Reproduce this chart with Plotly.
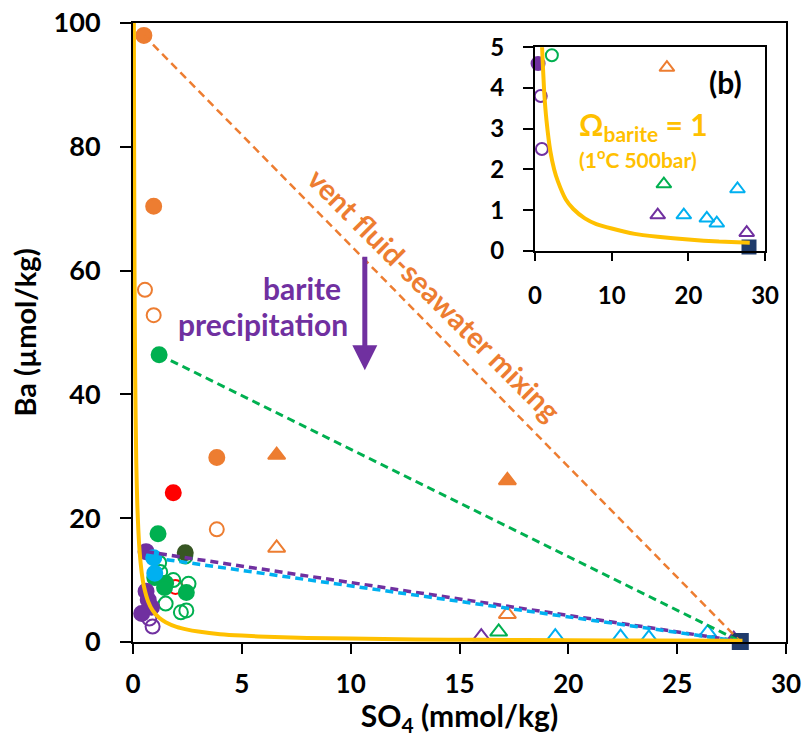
import numpy as np
import plotly.graph_objects as go

# ---------------- data: SO4 (mmol/kg) vs Ba (µmol/kg) ----------------
orange_fill_so4 = [0.5, 0.95, 3.85]
orange_fill_ba = [98.0, 70.4, 29.8]
orange_open_so4 = [0.55, 0.95, 3.85]
orange_open_ba = [56.9, 52.8, 18.2]
orange_tri_fill_so4 = [6.6, 17.2]
orange_tri_fill_ba = [30.2, 26.1]
orange_tri_open_so4 = [6.6, 17.2]
orange_tri_open_ba = [15.2, 4.5]

red_fill_so4 = [1.85]
red_fill_ba = [24.1]
red_open_so4 = [1.95]
red_open_ba = [8.9]

green_fill_so4 = [1.2, 1.15, 1.0, 1.5, 1.45, 2.45]
green_fill_ba = [46.4, 17.5, 10.4, 9.5, 8.8, 8.0]
green_open_so4 = [2.4, 1.2, 1.25, 1.85, 2.55, 1.5, 2.45, 2.2]
green_open_ba = [13.8, 12.8, 11.3, 10.0, 9.4, 6.2, 5.1, 4.8]
dkgreen_fill_so4 = [2.4]
dkgreen_fill_ba = [14.4]

purple_fill_so4 = [0.6, 0.6, 0.7, 0.85, 0.4]
purple_fill_ba = [14.6, 8.2, 6.8, 5.6, 4.6]
purple_open_so4 = [0.9, 0.75]
purple_open_ba = [2.5, 3.8]

cyan_fill_so4 = [0.95, 1.0]
cyan_fill_ba = [13.6, 11.1]

purple_tri_so4 = [16.0, 27.6]
purple_tri_ba = [0.88, 0.45]
green_tri_so4 = [16.8]
green_tri_ba = [1.64]
cyan_tri_so4 = [19.4, 22.4, 23.7, 26.4]
cyan_tri_ba = [0.88, 0.8, 0.68, 1.52]

seawater_so4 = [27.9]
seawater_ba = [0.1]

# barite saturation (Omega = 1) at 1 °C, 500 bar
omega_so4 = [0.04, 0.05, 0.07, 0.1, 0.15, 0.2, 0.3, 0.4, 0.5, 0.7, 0.9, 1.2, 1.5,
             2.0, 2.5, 3.0, 4.0, 5.0, 6.5, 8.0, 10.0, 13.0, 16.0, 20.0, 24.0, 28.0]
omega_ba = [100.0, 82.0, 60.0, 43.0, 29.0, 22.0, 14.8, 11.2, 9.0, 6.5, 5.1, 3.9, 3.2,
            2.45, 2.0, 1.7, 1.27, 1.03, 0.8, 0.66, 0.55, 0.42, 0.35, 0.28, 0.23, 0.2]

# ---------------- style ----------------
ORANGE = "#ED7D31"
GREEN = "#00B050"
DKGREEN = "#375623"
PURPLE = "#7030A0"
CYAN = "#00B0F0"
RED = "#FF0000"
NAVY = "#1F3B6B"
GOLD = "#FFC000"
FONT = "Lato"

# (x, y, color, symbol, main size)
marker_groups = [
    (orange_fill_so4, orange_fill_ba, ORANGE, "circle", 15),
    (orange_open_so4, orange_open_ba, ORANGE, "circle-open", 14),
    (orange_tri_fill_so4, orange_tri_fill_ba, ORANGE, "triangle-up", 15),
    (orange_tri_open_so4, orange_tri_open_ba, ORANGE, "triangle-up-open", 15),
    (red_open_so4, red_open_ba, RED, "circle-open", 14),
    (green_open_so4, green_open_ba, GREEN, "circle-open", 14),
    (purple_open_so4, purple_open_ba, PURPLE, "circle-open", 14),
    (red_fill_so4, red_fill_ba, RED, "circle", 15),
    (green_fill_so4, green_fill_ba, GREEN, "circle", 15),
    (dkgreen_fill_so4, dkgreen_fill_ba, DKGREEN, "circle", 15),
    (purple_fill_so4, purple_fill_ba, PURPLE, "circle", 15),
    (cyan_fill_so4, cyan_fill_ba, CYAN, "circle", 15),
    (purple_tri_so4, purple_tri_ba, PURPLE, "triangle-up-open", 15),
    (green_tri_so4, green_tri_ba, GREEN, "triangle-up-open", 15),
    (cyan_tri_so4, cyan_tri_ba, CYAN, "triangle-up-open", 15),
    (seawater_so4, seawater_ba, NAVY, "square", 15),
]

# vent fluid end-members mixed with seawater
mixing_lines = [
    (orange_fill_so4[0], orange_fill_ba[0], ORANGE, 2.5),
    (green_fill_so4[0], green_fill_ba[0], GREEN, 3),
    (purple_fill_so4[0], purple_fill_ba[0], PURPLE, 3.5),
    (cyan_fill_so4[0], cyan_fill_ba[0], CYAN, 3.5),
]

fig = go.Figure()

for xs, ys, col, sym, size in marker_groups:
    fig.add_trace(go.Scatter(
        x=xs, y=ys, mode="markers", cliponaxis=False, showlegend=False,
        marker=dict(symbol=sym, size=size, color=col, line=dict(width=2, color=col)),
        xaxis="x", yaxis="y"))

for x0, y0, col, w in mixing_lines:
    fig.add_trace(go.Scatter(
        x=[x0, seawater_so4[0]], y=[y0, seawater_ba[0]], mode="lines", showlegend=False,
        line=dict(color=col, width=w, dash="8px,5px"), xaxis="x", yaxis="y"))

fig.add_trace(go.Scatter(
    x=omega_so4, y=omega_ba, mode="lines", showlegend=False,
    line=dict(color=GOLD, width=4, shape="spline", smoothing=0.5), xaxis="x", yaxis="y"))

# inset (b): low-Ba detail
INSET_MAX = 5.0
for xs, ys, col, sym, size in marker_groups:
    xa = np.asarray(xs, dtype=float)
    ya = np.asarray(ys, dtype=float)
    keep = ya <= INSET_MAX
    if not keep.any():
        continue
    fig.add_trace(go.Scatter(
        x=xa[keep], y=ya[keep], mode="markers", cliponaxis=False, showlegend=False,
        marker=dict(symbol=sym, size=size - 2, color=col, line=dict(width=2, color=col)),
        xaxis="x2", yaxis="y2"))

fig.add_trace(go.Scatter(
    x=omega_so4, y=omega_ba, mode="lines", showlegend=False,
    line=dict(color=GOLD, width=4, shape="spline", smoothing=0.5), xaxis="x2", yaxis="y2"))

axis_common = dict(showgrid=False, zeroline=False, showline=True, linecolor="black",
                   linewidth=2, mirror=True, ticks="outside", tickcolor="black",
                   tickwidth=2, automargin=False)

fig.update_layout(
    width=807, height=737, autosize=False,
    margin=dict(l=133, r=21, t=23, b=95, pad=0),
    paper_bgcolor="white", plot_bgcolor="white",
    font=dict(family=FONT, color="black"),
    xaxis=dict(domain=[0, 1], range=[0, 30], dtick=5, ticklen=10,
               ticklabelstandoff=8,
               tickfont=dict(family=FONT, size=26, weight="bold"),
               title=dict(text="<b>SO<sub>4</sub> (mmol/kg)</b>", standoff=6,
                          font=dict(family=FONT, size=30)),
               anchor="y", **axis_common),
    yaxis=dict(domain=[0, 1], range=[0, 100], dtick=20, ticklen=11,
               ticklabelstandoff=14,
               tickfont=dict(family=FONT, size=27, weight="bold"),
               title=dict(text="<b>Ba (µmol/kg)</b>", standoff=8,
                          font=dict(family=FONT, size=29)),
               anchor="x", **axis_common),
    xaxis2=dict(domain=[0.6156, 0.968], range=[0, 30], dtick=10, ticklen=8,
                ticklabelstandoff=14,
                tickfont=dict(family=FONT, size=24, weight="bold"),
                anchor="y2", **axis_common),
    yaxis2=dict(domain=[0.6317, 0.961], range=[0, 5], dtick=1, ticklen=10,
                ticklabelstandoff=14,
                tickfont=dict(family=FONT, size=24, weight="bold"),
                anchor="x2", **axis_common),
    annotations=[
        dict(text="<b>vent fluid-seawater mixing</b>", x=13.87, y=56.1, xref="x", yref="y",
             xanchor="center", yanchor="middle",
             textangle=45, showarrow=False, font=dict(family=FONT, size=29, color=ORANGE)),
        dict(text="<b>barite</b>", x=9.65, y=57.2, xref="x", yref="y",
             xanchor="right", yanchor="middle",
             showarrow=False, font=dict(family=FONT, size=30, color=PURPLE)),
        dict(text="<b>precipitation</b>", x=9.97, y=51.4, xref="x", yref="y",
             xanchor="right", yanchor="middle",
             showarrow=False, font=dict(family=FONT, size=30, color=PURPLE)),
        dict(text="", x=10.65, y=43.9, ax=10.65, ay=62.5, xref="x", yref="y",
             axref="x", ayref="y", showarrow=True, arrowhead=2, arrowsize=1,
             arrowwidth=5, arrowcolor=PURPLE, standoff=0),
        dict(text="<b>(b)</b>", x=0.908, y=0.905, xref="paper", yref="paper",
             xanchor="center", yanchor="middle",
             showarrow=False, font=dict(family=FONT, size=30, color="black")),
        dict(text="<b>Ω<sub>barite</sub> = 1</b>", x=0.680, y=0.834, xref="paper",
             yref="paper", xanchor="left", yanchor="middle", showarrow=False,
             font=dict(family=FONT, size=30, color=GOLD)),
        dict(text="<b>(1<sup>o</sup>C 500bar)</b>", x=0.680, y=0.782, xref="paper",
             yref="paper", xanchor="left", yanchor="middle", showarrow=False,
             font=dict(family=FONT, size=21, color=GOLD)),
    ],
)

fig.write_html("out.html")
